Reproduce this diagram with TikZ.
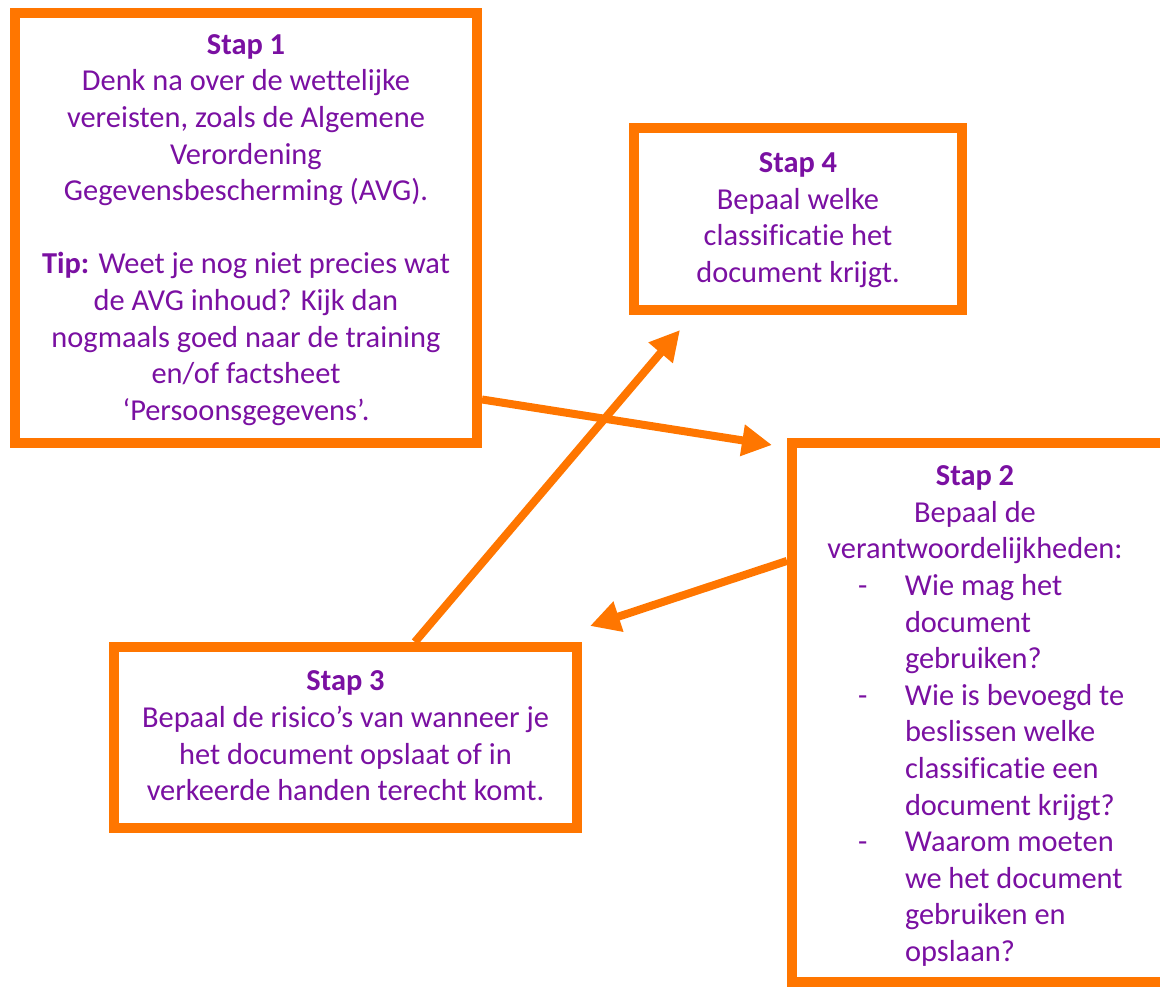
\documentclass[tikz,border=0pt]{standalone}
\usepackage{fontspec}
\setmainfont{Carlito}[Ligatures=NoCommon]
\usetikzlibrary{arrows.meta}
\definecolor{orng}{RGB}{255,118,0}
\definecolor{purp}{RGB}{122,16,162}
\newcommand\lsitem[2]{\makebox[23.5pt][l]{#1}\makebox[93.5pt][l]{#2}}
\begin{document}
\begin{tikzpicture}[x=0.5pt,y=-0.5pt,
  box/.style={draw=orng, line width=5pt, rectangle, inner sep=0pt, fill=white},
  txt/.style={text=purp, font=\fontsize{15.2}{18.3}\selectfont, align=center, inner sep=0pt},
  arr/.style={draw=orng, line width=4pt, -{Triangle[length=15pt,width=15pt]}}]
\useasboundingbox (0,0) rectangle (1160,987);
\clip (0,0) rectangle (1160,987);

% boxes
\node[box, minimum width=231pt, minimum height=215pt] (s1) at (246,228) {};
\node[box, minimum width=164pt, minimum height=91pt] (s4) at (798,219) {};
\node[box, minimum width=231.5pt, minimum height=90.5pt] (s3) at (345.5,737.5) {};
\node[box, minimum width=189pt, minimum height=269.5pt] (s2) at (981,712.5) {};

% texts
\node[txt] (t1) at (246,230) {\textbf{Stap 1}\\Denk na over de wettelijke\\vereisten, zoals de Algemene\\Verordening\\Gegevensbescherming (AVG).\\[18.3pt]\textbf{Tip:} Weet je nog niet precies wat\\de AVG inhoud? Kijk dan\\nogmaals goed naar de training\\en/of factsheet\\‘Persoonsgegevens’.};
\node[txt] (t4) at (798,220) {\textbf{Stap 4}\\Bepaal welke\\classificatie het\\document krijgt.};
\node[txt] (t3) at (345.5,736) {\textbf{Stap 3}\\Bepaal de risico’s van wanneer je\\het document opslaat of in\\verkeerde handen terecht komt.};
\node[txt] (t2) at (975,716) {\textbf{Stap 2}\\Bepaal de\\verantwoordelijkheden:\\
\lsitem{-}{Wie mag het}\\\lsitem{}{document}\\\lsitem{}{gebruiken?}\\
\lsitem{-}{Wie is bevoegd te}\\\lsitem{}{beslissen welke}\\\lsitem{}{classificatie een}\\\lsitem{}{document krijgt?}\\
\lsitem{-}{Waarom moeten}\\\lsitem{}{we het document}\\\lsitem{}{gebruiken en}\\\lsitem{}{opslaan?}};

% arrow tips
\coordinate (a1) at (772,445);
\coordinate (a2) at (590,626);
\coordinate (a3) at (680,330);

% connectors
\draw[arr] (s1.-36) -- (a1);
\draw[arr] (s2.142) -- (a2);
\draw[arr] (s3.54.7) -- (a3);
\end{tikzpicture}
\end{document}
